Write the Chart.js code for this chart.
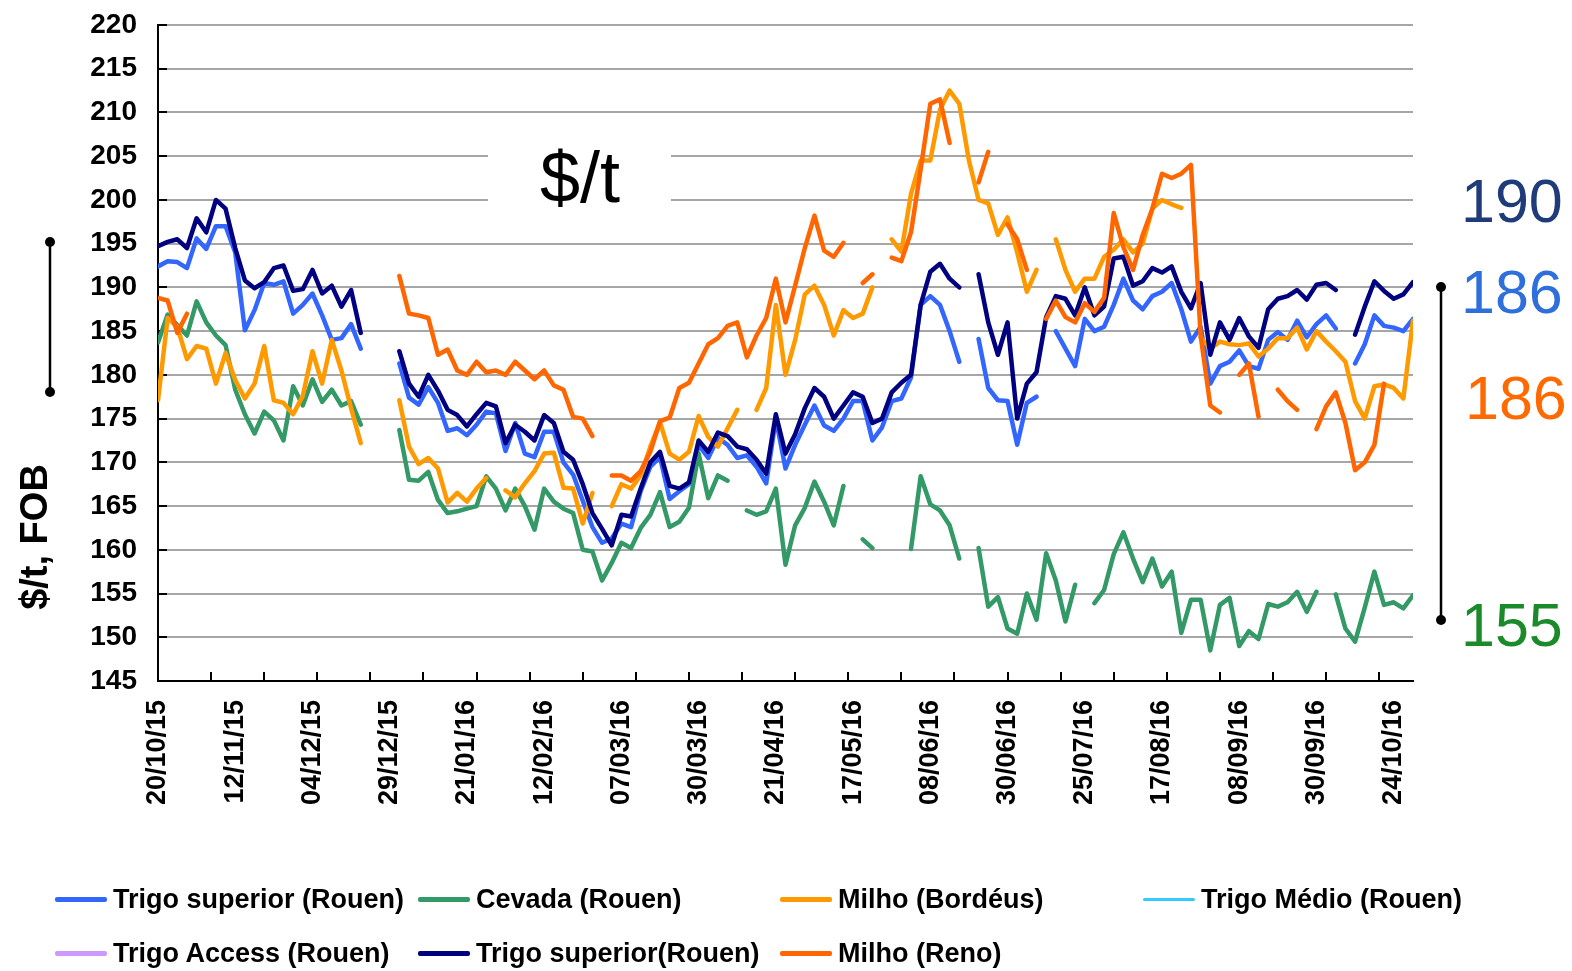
<!DOCTYPE html>
<html>
<head>
<meta charset="utf-8">
<script src="https://cdn.jsdelivr.net/npm/chart.js@4.4.1/dist/chart.umd.min.js"></script>
<style>
  html, body { margin: 0; padding: 0; background: #fff; }
  #wrap { position: relative; width: 1572px; height: 971px; }
  #legend { position: absolute; left: 0; top: 0; width: 1572px; height: 971px; pointer-events: none;
            font: bold 27px "Liberation Sans", Arial, sans-serif; color: #000; }
  .item { position: absolute; display: flex; align-items: center; height: 40px; white-space: nowrap; }
  .swatch { width: 52px; margin-right: 6px; border-radius: 2px; }
</style>
</head>
<body>
<div id="wrap">
  <canvas id="chart" width="1572" height="971"></canvas>
  <div id="legend"></div>
</div>
<script>
// one value every 2 trading days, day 0 = 20/10/15
const sampleStep = 2;
const lastDay = 260;
const labelEvery = 16;
const tickEvery = 11;

const tickLabels = ['20/10/15', '12/11/15', '04/12/15', '29/12/15', '21/01/16', '12/02/16', '07/03/16',
  '30/03/16', '21/04/16', '17/05/16', '08/06/16', '30/06/16', '25/07/16', '17/08/16', '08/09/16',
  '30/09/16', '24/10/16'];

const trigoSuperior = [
  192.4, 193.0, 192.9, 192.2, 195.6, 194.4, 197, 197, 194, 185.1,
  187.4, 190.5, 190.3, 190.7, 187, 188, 189.3, 186.8, 184, 184.2,
  185.8, 183, null, null, null, 181.3, 177.4, 176.6, 178.6, 176.8,
  173.6, 173.9, 173.1, 174.3, 175.8, 175.6, 171.3, 174.5, 171, 170.6,
  173.5, 173.5, 170, 168.6, 165.6, 162.6, 160.8, 161.3, 163, 162.6,
  166.7, 169.5, 170.6, 165.8, 166.7, 167.5, 172, 170.5, 172.8, 172,
  170.5, 170.8, 169.5, 167.6, 175, 169.3, 172, 174.3, 176.5, 174.2,
  173.6, 175, 177, 177, 172.5, 174, 177, 177.3, 179.7, 188,
  189, 188, 185, 181.5, null, 184.1, 178.5, 177.1, 177, 172,
  176.8, 177.5, null, 185, 183, 181, 186.4, 185, 185.5, 188,
  191, 188.5, 187.5, 189, 189.5, 190.5, 187.5, 183.8, 185.5, 179,
  181, 181.5, 182.8, 181, 180.7, 184, 184.9, 184, 186.2, 184.3,
  185.8, 186.8, 185.3, null, 181.3, 183.5, 186.8, 185.6, 185.4, 185,
  186.4
];

const cevada = [
  183.7, 186.9, 185.7, 184.5, 188.4, 186, 184.5, 183.4, 178.3, 175.5,
  173.3, 175.8, 174.8, 172.5, 178.7, 176.5, 179.5, 176.9, 178.3, 176.5,
  177, 174.3, null, null, null, 173.7, 168, 167.9, 168.9, 165.7,
  164.2, 164.4, 164.7, 165, 168.4, 167, 164.5, 167, 165, 162.3,
  167, 165.5, 164.7, 164.2, 160, 159.8, 156.5, 158.5, 160.8, 160.2,
  162.5, 164, 166.6, 162.6, 163.2, 164.8, 171, 165.9, 168.5, 167.9,
  null, 164.5, 164, 164.4, 167, 158.3, 162.8, 164.8, 167.8, 165.5,
  162.8, 167.3, null, 161.2, 160.2, null, null, null, 160.1, 168.4,
  165.2, 164.5, 162.8, 159, null, 160.2, 153.5, 154.6, 151, 150.4,
  155, 152, 159.6, 156.5, 151.8, 156, null, 153.9, 155.4, 159.5,
  162, 159, 156.3, 159, 155.8, 157.5, 150.5, 154.3, 154.3, 148.5,
  153.7, 154.5, 149, 150.7, 149.8, 153.8, 153.5, 154, 155.2, 152.9,
  155.2, null, 154.9, 151, 149.5, 153.4, 157.5, 153.7, 154, 153.3,
  154.8
];

const milhoBordeus = [
  177.1, 186.5, 185.5, 181.8, 183.3, 183, 179, 182.5, 179.4, 177.3,
  179, 183.3, 177.1, 176.8, 175.5, 177.6, 182.7, 179, 184, 180.5,
  176.2, 172.2, null, null, null, 177.1, 171.8, 169.8, 170.5, 169.3,
  165.4, 166.5, 165.5, 167, 168.2, null, 166.8, 166, 167.6, 169,
  171, 171.1, 167.1, 167, 163, 166.5, null, 165, 167.5, 167,
  168.5, 171.8, 174.6, 171, 170.3, 171.2, 175.3, 172.9, 171.8, 173.9,
  176, null, 176, 178.5, 188, 180, 184, 189.2, 190.2, 188,
  184.5, 187.4, 186.5, 187, 190, null, 195.5, 194.1, 200.7, 204.5,
  204.5, 210.3, 212.5, 211, 204.5, 200, 199.6, 196, 198, 194,
  189.5, 192, null, 195.5, 192, 189.5, 191, 191, 193.5, 194.3,
  195.5, 194, 195, 199, 200, 199.5, 199.1, null, 184.3, 183,
  183.8, 183.5, 183.4, 183.6, 182.1, 183, 184.2, 184.2, 185.4, 182.9,
  185, 183.8, 182.7, 181.5, 177, 175, 178.7, 178.9, 178.5, 177.3,
  186.2
];

const trigoMedio = [];
const trigoAccess = [];

const trigoSuperior2 = [
  194.7, 195.2, 195.5, 194.5, 197.9, 196.3, 200, 199, 194.5, 190.8,
  189.9, 190.6, 192.2, 192.5, 189.6, 189.8, 192, 189.3, 190.2, 187.8,
  189.7, 184.8, null, null, null, 182.7, 179, 177.5, 180, 178.2,
  176, 175.4, 174.1, 175.5, 176.8, 176.4, 172.2, 174.3, 173.5, 172.5,
  175.4, 174.5, 171.2, 170.3, 167.5, 164.2, 162.4, 160.5, 164, 163.8,
  167, 170, 171.2, 167.3, 167, 167.7, 172.5, 171.2, 173.4, 173,
  171.8, 171.5, 170.3, 168.7, 175.5, 171, 173.2, 176.2, 178.5, 177.5,
  175, 176.5, 178, 177.5, 174.5, 175, 178, 179.1, 180, 188,
  191.8, 192.7, 191, 190, null, 191.5, 186, 182.3, 186, 175,
  179, 180.3, 186.6, 189, 188.7, 186.8, 190, 186.8, 187.8, 193.3,
  193.5, 190.2, 190.7, 192.2, 191.7, 192.4, 189.5, 187.6, 190.5, 182.3,
  186, 184, 186.5, 184.4, 183.1, 187.5, 188.7, 189, 189.7, 188.6,
  190.3, 190.5, 189.7, null, 184.6, 187.8, 190.7, 189.6, 188.7, 189.2,
  190.6
];

const milhoReno = [
  188.8, 188.5, 184.8, 187, null, null, null, null, null, null,
  null, null, null, null, null, null, null, null, null, null,
  null, null, null, null, null, 191.3, 187, 186.8, 186.5, 182.3,
  182.9, 180.5, 180, 181.5, 180.3, 180.5, 180, 181.5, 180.5, 179.5,
  180.5, 178.8, 178.3, 175.2, 175, 173, null, 168.5, 168.5, 167.9,
  169, 171.2, 174.7, 175.1, 178.5, 179.1, 181.3, 183.5, 184.2, 185.6,
  186, 182, 184.5, 186.5, 191, 186, 190.2, 194.5, 198.2, 194.2,
  193.5, 195.1, null, 190.5, 191.5, null, 193.4, 193, 196.3, 203.5,
  211, 211.5, 206.5, null, null, 202, 205.5, null, 197.2, 195.5,
  192, null, 186.4, 188.5, 186.6, 186, 188.2, 187.2, 188.8, 198.5,
  194.6, 192, 196, 199, 203, 202.5, 203, 204, 184.5, 176.5,
  175.7, null, 180, 181.3, 175.2, null, 178.3, 177, 176, null,
  173.8, 176.4, 178, 174.5, 169.1, 170, 172, 179, null, null,
  null
];

const seriesInfo = [
  { label: 'Trigo superior (Rouen)', values: trigoSuperior, color: '#3366ff', order: 6, legendWidth: 5 },
  { label: 'Cevada (Rouen)', values: cevada, color: '#339966', order: 5, legendWidth: 5 },
  { label: 'Milho (Bordéus)', values: milhoBordeus, color: '#ff9900', order: 4, legendWidth: 5 },
  { label: 'Trigo Médio (Rouen)', values: trigoMedio, color: '#33ccff', order: 3, legendWidth: 3 },
  { label: 'Trigo Access (Rouen)', values: trigoAccess, color: '#cc99ff', order: 3, legendWidth: 5 },
  { label: 'Trigo superior(Rouen)', values: trigoSuperior2, color: '#000080', order: 1, legendWidth: 5 },
  { label: 'Milho (Reno)', values: milhoReno, color: '#ff6600', order: 0, legendWidth: 5 }
];

// a lone value between two gaps is drawn as a short dash
function dashRadius(ctx) {
  const d = ctx.dataset.data;
  const i = ctx.dataIndex;
  const has = j => d[j] && d[j].y !== null;
  return has(i) && !has(i - 1) && !has(i + 1) ? 5 : 0;
}

const datasets = seriesInfo.map(s => ({
  label: s.label,
  data: s.values.map((v, k) => ({ x: k * sampleStep, y: v })),
  borderColor: s.color,
  backgroundColor: s.color,
  borderWidth: 4.5,
  borderJoinStyle: 'round',
  borderCapStyle: 'round',
  pointStyle: 'line',
  pointRadius: dashRadius,
  pointBorderWidth: 4.5,
  pointBorderColor: s.color,
  pointHoverRadius: 0,
  spanGaps: false,
  tension: 0,
  order: s.order
}));

const fontFamily = '"Liberation Sans", Arial, sans-serif';

const extras = {
  id: 'extras',
  beforeDatasetsDraw(chart) {
    const { ctx, chartArea, scales: { x, y } } = chart;
    ctx.save();
    // white box under the "$/t" title
    ctx.fillStyle = '#fff';
    ctx.fillRect(488, 120, 183, 86);
    ctx.fillStyle = '#000';
    ctx.font = '72px ' + fontFamily;
    ctx.textAlign = 'center';
    ctx.textBaseline = 'alphabetic';
    ctx.fillText('$/t', 580, 202);

    // tick marks pointing into the plot
    ctx.strokeStyle = '#000';
    ctx.lineWidth = 2;
    ctx.beginPath();
    for (let v = 145; v <= 220; v += 5) {
      const py = Math.round(y.getPixelForValue(v));
      ctx.moveTo(chartArea.left, py);
      ctx.lineTo(chartArea.left + 9, py);
    }
    for (let d = 0; d <= lastDay; d += tickEvery) {
      const px = Math.round(x.getPixelForValue(d));
      ctx.moveTo(px, chartArea.bottom);
      ctx.lineTo(px, chartArea.bottom - 9);
    }
    ctx.stroke();
    ctx.restore();
  },
  afterDraw(chart) {
    const { ctx } = chart;
    ctx.save();
    // y axis title
    ctx.translate(37, 537);
    ctx.rotate(-Math.PI / 2);
    ctx.fillStyle = '#000';
    ctx.font = 'bold 38px ' + fontFamily;
    ctx.textAlign = 'center';
    ctx.textBaseline = 'middle';
    ctx.fillText('$/t, FOB', 0, 0);
    ctx.restore();

    ctx.save();
    const bracket = (bx, y1, y2) => {
      ctx.strokeStyle = '#000';
      ctx.fillStyle = '#000';
      ctx.lineWidth = 2.5;
      ctx.beginPath();
      ctx.moveTo(bx, y1);
      ctx.lineTo(bx, y2);
      ctx.stroke();
      [y1, y2].forEach(py => {
        ctx.beginPath();
        ctx.arc(bx, py, 5, 0, Math.PI * 2);
        ctx.fill();
      });
    };
    bracket(50, 242, 392);
    bracket(1441, 287, 620);

    ctx.font = '61px ' + fontFamily;
    ctx.textAlign = 'left';
    ctx.textBaseline = 'alphabetic';
    const notes = [
      ['190', '#1f3b7a', 1461, 222],
      ['186', '#2f6fdb', 1461, 313],
      ['186', '#ff6a00', 1465, 419],
      ['155', '#1b8a2a', 1461, 646]
    ];
    notes.forEach(([t, c, nx, ny]) => {
      ctx.fillStyle = c;
      ctx.fillText(t, nx, ny);
    });
    ctx.restore();
  }
};

Chart.defaults.font.family = fontFamily;
Chart.defaults.color = '#000';

new Chart(document.getElementById('chart'), {
  type: 'line',
  data: { datasets },
  options: {
    responsive: false,
    animation: false,
    events: [],
    layout: { padding: { top: 25, right: 159, bottom: 0, left: 0 } },
    plugins: { legend: { display: false }, tooltip: { enabled: false } },
    scales: {
      x: {
        type: 'linear',
        min: 0,
        max: lastDay,
        afterFit: s => { s.height = 290; },
        afterBuildTicks: s => { s.ticks = tickLabels.map((_, i) => ({ value: i * labelEvery })); },
        ticks: {
          autoSkip: false,
          minRotation: 90,
          maxRotation: 90,
          padding: 19,
          color: '#000',
          font: { size: 27, weight: 'bold' },
          callback: (v, i) => tickLabels[i]
        },
        grid: { display: false, drawTicks: false },
        border: { color: '#000', width: 2 }
      },
      y: {
        min: 145,
        max: 220,
        afterFit: s => { s.width = 158; s.paddingTop = 0; s.paddingBottom = 0; },
        ticks: { stepSize: 5, padding: 21, color: '#000', font: { size: 28, weight: 'bold' } },
        grid: { color: '#a6a6a6', lineWidth: 2, drawTicks: false },
        border: { color: '#000', width: 2 }
      }
    }
  },
  plugins: [extras]
});

// legend in two rows of four columns, as in the source chart
const legendCols = [55, 418, 780, 1143];
const legendRows = [899, 953];
const legend = document.getElementById('legend');
seriesInfo.forEach((s, i) => {
  const item = document.createElement('div');
  item.className = 'item';
  item.style.left = legendCols[i % 4] + 'px';
  item.style.top = (legendRows[Math.floor(i / 4)] - 20) + 'px';
  const sw = document.createElement('span');
  sw.className = 'swatch';
  sw.style.height = s.legendWidth + 'px';
  sw.style.background = s.color;
  const txt = document.createElement('span');
  txt.textContent = s.label;
  item.appendChild(sw);
  item.appendChild(txt);
  legend.appendChild(item);
});
</script>
</body>
</html>
